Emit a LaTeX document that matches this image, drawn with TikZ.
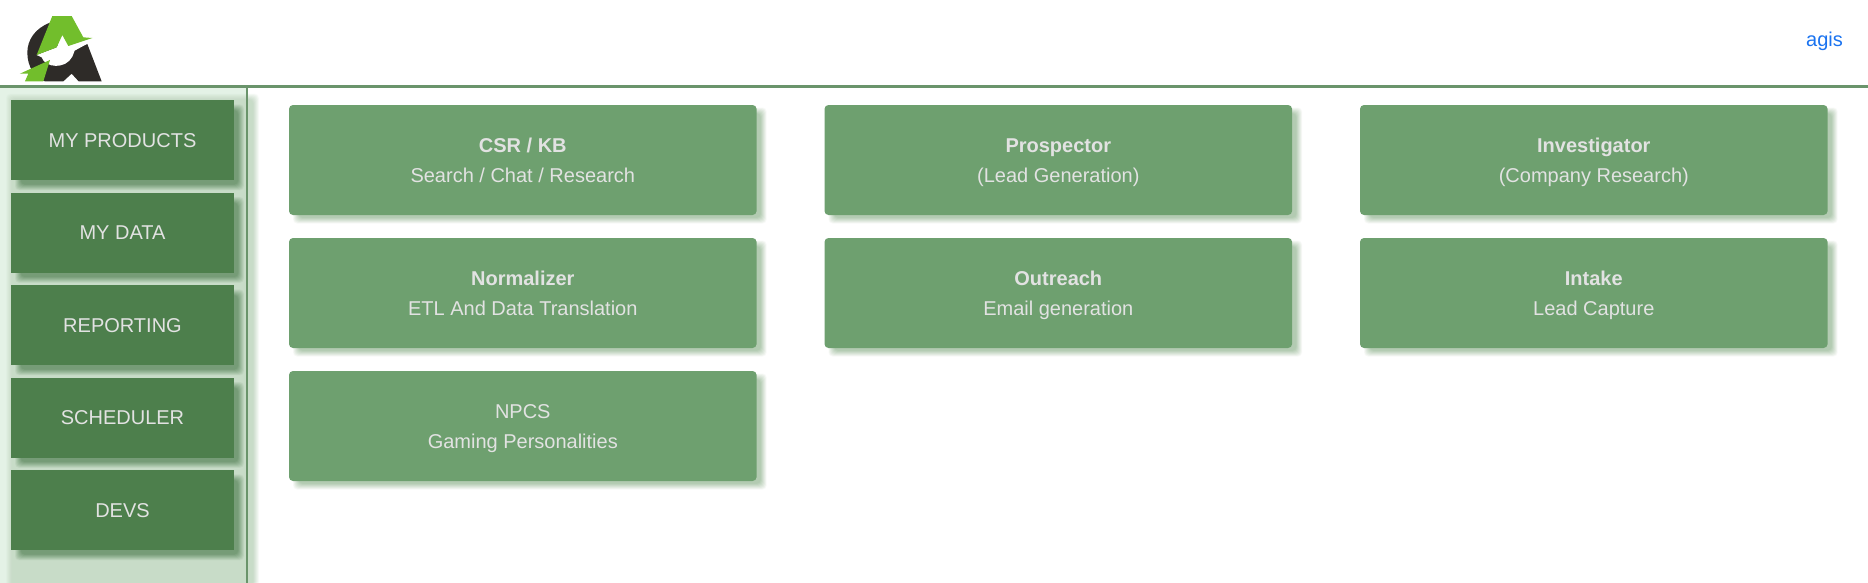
\documentclass[tikz,border=0pt]{standalone}
\usepackage{fontspec}
\setmainfont{Liberation Sans}
\usetikzlibrary{positioning}
\usetikzlibrary{calc}
\usetikzlibrary{backgrounds}
\definecolor{cardgreen}{HTML}{6EA06F}
\definecolor{navgreen}{HTML}{4D7F4C}
\definecolor{rulegreen}{HTML}{6A946B}
\definecolor{cardshadow}{HTML}{B3CBB2}
\definecolor{navshadow}{HTML}{769C77}
\definecolor{paneshadow}{HTML}{C8DCC8}
\definecolor{paneback}{HTML}{E4F2E6}
\definecolor{labelgrey}{HTML}{E2E2E2}
\definecolor{logogreen}{HTML}{72BE2C}
\definecolor{logodark}{HTML}{2E2B28}
\definecolor{linkblue}{HTML}{1A73F0}
\tikzset{
	card/.style={
		fill=cardgreen, text=labelgrey, rounded corners=4pt, inner sep=0pt, outer sep=0pt,
		minimum width=467.6pt, minimum height=110pt, align=center,
		font=\fontsize{20}{30}\selectfont
	},
	navbutton/.style={
		fill=navgreen, text=labelgrey, inner sep=0pt, outer sep=0pt,
		minimum width=223pt, minimum height=80pt, text height=14pt, text depth=0pt,
		font=\fontsize{20}{24}\selectfont
	},
	pane/.style={inner sep=0pt, outer sep=0pt, minimum width=247pt, minimum height=520pt}
}
% two lines with fixed baselines, whatever the letters
\newcommand\cardtext[2]{\rule{0pt}{20pt}#1\\#2\rule[-5.4pt]{0pt}{5.4pt}}
% node, x shift, y shift, colour
\newcommand\softshadow[4]{%
	\foreach \g in {3,2.5,...,-3}{%
		\pgfmathsetmacro\shadeop{1/(7+2*\g)}%
		\fill[#4, fill opacity=\shadeop, rounded corners=4pt]
			($(#1.north west)+(#2-\g,#3-\g)$) rectangle ($(#1.south east)+(#2+\g,#3+\g)$);
	}%
}
\begin{document}
\begin{tikzpicture}[x=1pt, y=-1pt, node distance=23pt and 67.9pt]
	\useasboundingbox (0,0) rectangle (1868,582);

	% side pane
	\node[pane, anchor=north west] (navpane) at (0,87.7) {};
	\draw[rulegreen, line width=1.7pt] (navpane.north east) -- (navpane.south east);

	% header
	\coordinate (ruleleft) at (0,86.3);
	\coordinate (ruleright) at (1868,86.3);
	\draw[rulegreen, line width=2.7pt] (ruleleft) -- (ruleright);
	\node[text=linkblue, font=\fontsize{20}{24}\selectfont, anchor=base east, inner sep=0pt] (agis) at (1843,46) {agis};

	% logo
	\begin{scope}[x=0.3333pt, y=-0.3333pt]
		\fill[logodark] (150,68) .. controls (105,85) and (82,120) .. (82,158) .. controls (82,200) and (105,235) .. (135,244)
			-- (190,244) -- (215,221) -- (236,244) -- (305,244) -- (262,132) -- (215,150) -- (150,120) -- cycle;
		\fill[white] (297,112) -- (205,138) -- (187,105) -- (170,142) -- (110,165) -- (125,172)
			.. controls (135,204) and (197,209) .. (217,170) -- (224,152) -- cycle;
		\fill[logogreen] (157,48) -- (215,48) -- (250,112) -- (277,114) -- (205,138) -- (187,105) -- (170,142) -- (110,165) -- cycle;
		\fill[logogreen] (150,180) -- (130,244) -- (75,244) -- (85,221) -- (60,221) -- cycle;
	\end{scope}

	% menu
	\node[navbutton, anchor=north west] (myproducts) at (11,100.4) {MY PRODUCTS};
	\node[navbutton, below=12.5pt of myproducts] (mydata) {MY DATA};
	\node[navbutton, below=12.5pt of mydata] (reporting) {REPORTING};
	\node[navbutton, below=12.5pt of reporting] (scheduler) {SCHEDULER};
	\node[navbutton, below=12.5pt of scheduler] (devs) {DEVS};

	% products
	\node[card, anchor=north west] (csrkb) at (289,105) {\cardtext{\textbf{CSR / KB}}{Search / Chat / Research}};
	\node[card, right=of csrkb] (prospector) {\cardtext{\textbf{Prospector}}{(Lead Generation)}};
	\node[card, right=of prospector] (investigator) {\cardtext{\textbf{Investigator}}{(Company Research)}};
	\node[card, below=of csrkb] (normalizer) {\cardtext{\textbf{Normalizer}}{ETL And Data Translation}};
	\node[card, right=of normalizer] (outreach) {\cardtext{\textbf{Outreach}}{Email generation}};
	\node[card, right=of outreach] (intake) {\cardtext{\textbf{Intake}}{Lead Capture}};
	\node[card, below=of normalizer] (npcs) {\cardtext{NPCS}{Gaming Personalities}};

	% shadows go under everything
	\begin{scope}[on background layer]
		\fill[white] (0,0) rectangle (1868,582);
		\fill[paneback] (navpane.north west) rectangle (navpane.south east);
		\softshadow{navpane}{9}{9}{paneshadow}
		\foreach \b in {myproducts,mydata,reporting,scheduler,devs}
			\softshadow{\b}{7}{7}{navshadow};
		\foreach \c in {csrkb,prospector,investigator,normalizer,outreach,intake,npcs}
			\softshadow{\c}{7}{5.5}{cardshadow};
	\end{scope}
\end{tikzpicture}
\end{document}
